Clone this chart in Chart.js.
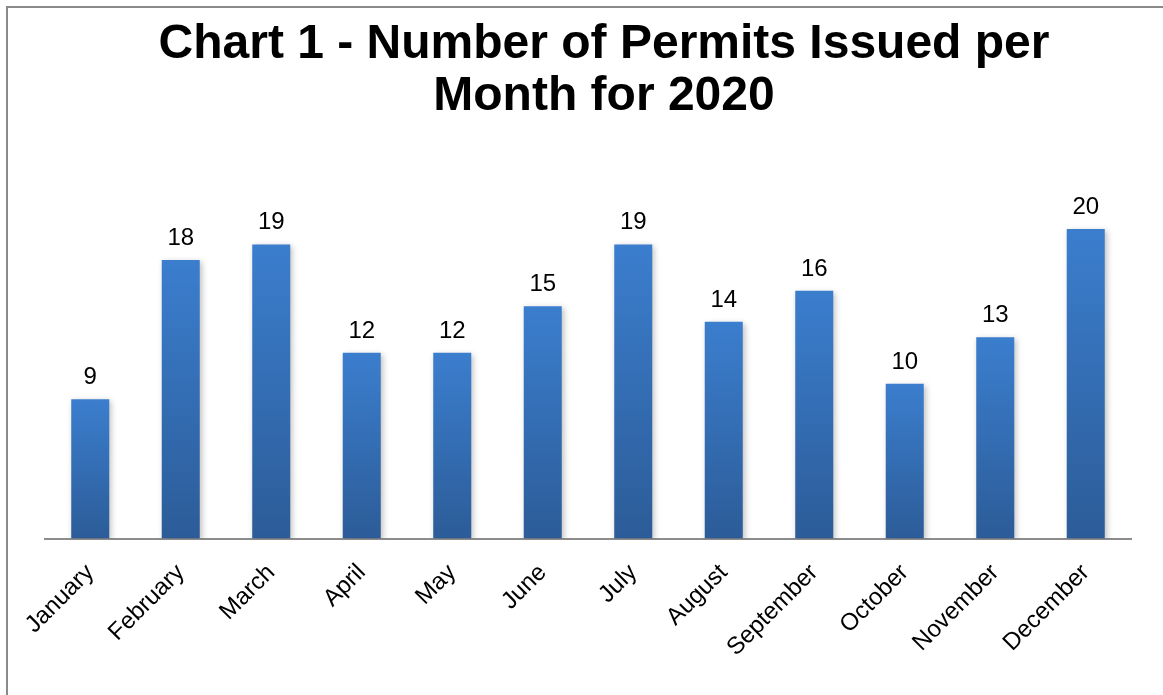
<!DOCTYPE html>
<html>
<head>
<meta charset="utf-8">
<script src="https://cdn.jsdelivr.net/npm/chart.js@4"></script>
<style>
  html, body { margin: 0; padding: 0; background: #fff; }
  #wrap { position: relative; width: 1163px; height: 695px; overflow: hidden; }
  #frame { position: absolute; left: 6px; top: 6px; width: 1300px; height: 800px; border: 2px solid #8a8a8a; }
  canvas { position: absolute; left: 0; top: 0; }
</style>
</head>
<body>
<div id="wrap">
  <div id="frame"></div>
  <canvas id="graph" width="1163" height="695"></canvas>
</div>
<script>
/* data */
var months = ["January", "February", "March", "April", "May", "June",
  "July", "August", "September", "October", "November", "December"];
var permits = [9, 18, 19, 12, 12, 15, 19, 14, 16, 10, 13, 20];
var titleLines = ["Chart 1 - Number of Permits Issued per", "Month for 2020"];

var font = "'Liberation Sans', Arial, sans-serif";

// each bar gets its own top-to-bottom gradient
function barGradient(context) {
  var chart = context.chart;
  var y = chart.scales.y;
  if (!y || !chart.chartArea) return '#3470b8';
  var v = context.raw;
  var top = y.getPixelForValue(v);
  var base = y.getPixelForValue(0);
  if (!isFinite(top) || !isFinite(base) || top === base) return '#3470b8';
  var g = chart.ctx.createLinearGradient(0, top, 0, base);
  g.addColorStop(0, '#3b7ece');
  g.addColorStop(1, '#2c5c98');
  return g;
}

var barShadow = {
  id: 'barShadow',
  beforeDatasetDraw: function (chart) {
    var ctx = chart.ctx;
    ctx.save();
    ctx.shadowColor = 'rgba(0,0,0,0.25)';
    ctx.shadowBlur = 6;
    ctx.shadowOffsetX = 2;
    ctx.shadowOffsetY = 2;
  },
  afterDatasetDraw: function (chart) {
    chart.ctx.restore();
  }
};

var valueLabels = {
  id: 'valueLabels',
  afterDatasetsDraw: function (chart) {
    var ctx = chart.ctx;
    var meta = chart.getDatasetMeta(0);
    ctx.save();
    ctx.font = '24px ' + font;
    ctx.fillStyle = '#000';
    ctx.textAlign = 'center';
    ctx.textBaseline = 'alphabetic';
    meta.data.forEach(function (bar, i) {
      ctx.fillText(String(permits[i]), bar.x, bar.y - 15);
    });
    ctx.restore();
  }
};

// title is centred on the frame, not on the plot area, so draw it by hand
var frameTitle = {
  id: 'frameTitle',
  afterDraw: function (chart) {
    var ctx = chart.ctx;
    ctx.save();
    ctx.font = 'bold 48px ' + font;
    ctx.fillStyle = '#000';
    ctx.textAlign = 'center';
    ctx.textBaseline = 'alphabetic';
    titleLines.forEach(function (line, i) {
      ctx.fillText(line, 604, 58 + i * 52);
    });
    ctx.restore();
  }
};

var graph = document.getElementById("graph").getContext("2d");

var myChart = new Chart(graph, {
  type: "bar",
  data: {
    labels: months,
    datasets: [{
      label: "Permits",
      data: permits,
      backgroundColor: barGradient,
      borderWidth: 0,
      categoryPercentage: 0.84,
      barPercentage: 0.5,
    }],
  },
  options: {
    responsive: false,
    animation: false,
    layout: {
      padding: { left: 45, right: 32, top: 167, bottom: 13 },
    },
    plugins: {
      legend: { display: false },
      tooltip: { enabled: false },
      title: { display: false },
    },
    scales: {
      x: {
        grid: { display: false, drawTicks: false },
        border: { display: true, color: '#8c8c8c', width: 2 },
        ticks: {
          color: '#000',
          font: { family: font, size: 24 },
          minRotation: 45,
          maxRotation: 45,
          padding: 20,
        },
      },
      y: {
        display: false,
        min: 0,
        max: 24,
      },
    },
  },
  plugins: [barShadow, valueLabels, frameTitle],
});
</script>
</body>
</html>
